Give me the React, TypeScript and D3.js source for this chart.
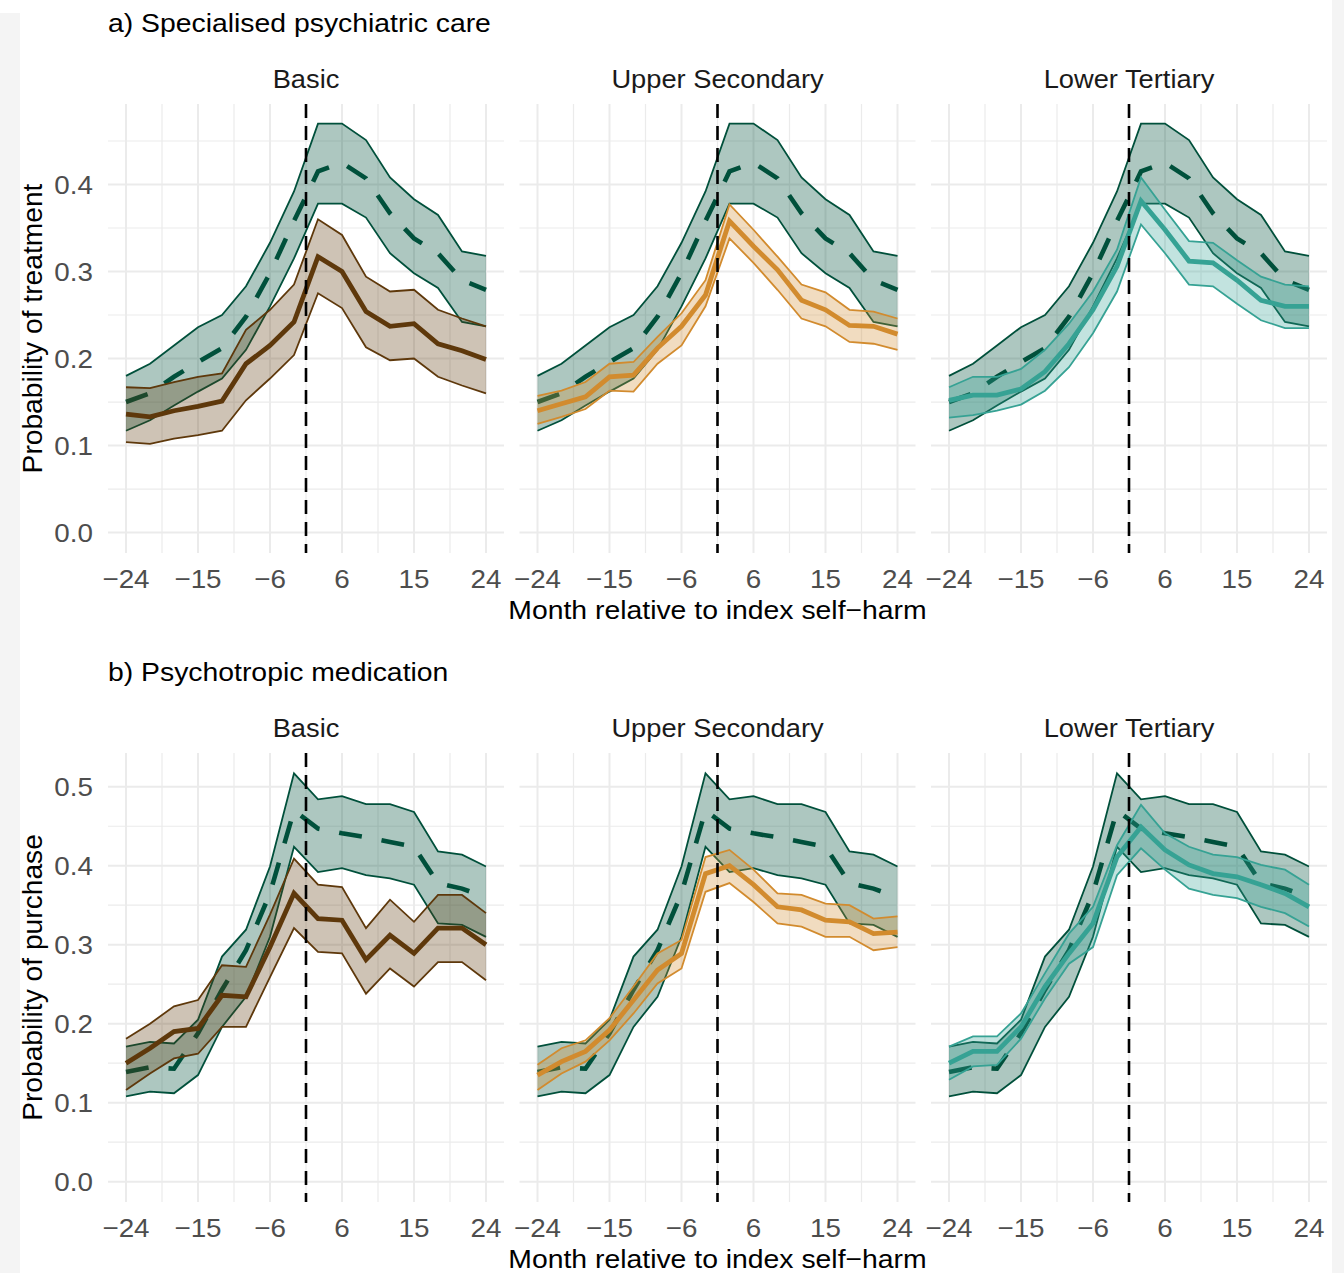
import React from 'react';
import * as d3 from 'd3';

// Months relative to the index self-harm episode (quarterly, month 0 excluded)
const months = [-24, -21, -18, -15, -12, -9, -6, -3, 3, 6, 9, 12, 15, 18, 21, 24];
const xTickMonths = [-24, -15, -6, 6, 15, 24];
const facetLabels = ['Basic', 'Upper Secondary', 'Lower Tertiary'];

// a) Specialised psychiatric care — reference band (dashed)
const careRefLow = [0.117, 0.129, 0.146, 0.162, 0.177, 0.21, 0.26, 0.315, 0.378, 0.378, 0.362, 0.321, 0.298, 0.281, 0.242, 0.237];
const careRefMid = [0.15, 0.16, 0.179, 0.196, 0.212, 0.248, 0.298, 0.358, 0.415, 0.425, 0.407, 0.367, 0.338, 0.321, 0.29, 0.279];
const careRefHigh = [0.18, 0.194, 0.215, 0.236, 0.25, 0.283, 0.333, 0.392, 0.47, 0.47, 0.451, 0.408, 0.383, 0.365, 0.323, 0.318];

// a) Basic
const careBasicLow = [0.104, 0.102, 0.108, 0.112, 0.117, 0.152, 0.177, 0.204, 0.275, 0.258, 0.213, 0.198, 0.2, 0.179, 0.169, 0.16];
const careBasicMid = [0.136, 0.133, 0.14, 0.145, 0.151, 0.194, 0.215, 0.242, 0.317, 0.3, 0.254, 0.237, 0.24, 0.217, 0.209, 0.199];
const careBasicHigh = [0.167, 0.166, 0.173, 0.179, 0.183, 0.233, 0.256, 0.285, 0.36, 0.342, 0.294, 0.277, 0.279, 0.256, 0.246, 0.237];

// a) Upper Secondary
const careUpperLow = [0.125, 0.133, 0.142, 0.163, 0.162, 0.194, 0.215, 0.26, 0.338, 0.31, 0.279, 0.246, 0.237, 0.219, 0.217, 0.21];
const careUpperMid = [0.14, 0.148, 0.156, 0.179, 0.181, 0.212, 0.237, 0.273, 0.358, 0.329, 0.302, 0.267, 0.256, 0.238, 0.237, 0.228];
const careUpperHigh = [0.157, 0.163, 0.173, 0.194, 0.196, 0.225, 0.252, 0.29, 0.377, 0.348, 0.317, 0.285, 0.276, 0.256, 0.254, 0.246];

// a) Lower Tertiary
const careTertLow = [0.132, 0.135, 0.14, 0.147, 0.163, 0.19, 0.229, 0.277, 0.354, 0.321, 0.285, 0.283, 0.263, 0.244, 0.235, 0.235];
const careTertMid = [0.152, 0.158, 0.158, 0.165, 0.185, 0.217, 0.256, 0.306, 0.381, 0.348, 0.312, 0.31, 0.29, 0.267, 0.26, 0.26];
const careTertHigh = [0.167, 0.179, 0.179, 0.188, 0.21, 0.24, 0.277, 0.325, 0.408, 0.371, 0.335, 0.333, 0.313, 0.294, 0.285, 0.283];

// b) Psychotropic medication — reference band (dashed)
const medRefLow = [0.108, 0.114, 0.112, 0.135, 0.196, 0.234, 0.31, 0.424, 0.392, 0.397, 0.388, 0.384, 0.376, 0.327, 0.325, 0.31];
const medRefMid = [0.139, 0.145, 0.143, 0.188, 0.243, 0.293, 0.365, 0.47, 0.447, 0.441, 0.436, 0.43, 0.424, 0.378, 0.371, 0.36];
const medRefHigh = [0.171, 0.177, 0.175, 0.205, 0.285, 0.319, 0.399, 0.517, 0.484, 0.488, 0.478, 0.478, 0.468, 0.418, 0.414, 0.399];

// b) Basic
const medBasicLow = [0.116, 0.137, 0.156, 0.162, 0.196, 0.196, 0.259, 0.321, 0.291, 0.289, 0.238, 0.27, 0.247, 0.278, 0.278, 0.255];
const medBasicMid = [0.15, 0.169, 0.19, 0.194, 0.236, 0.234, 0.297, 0.365, 0.333, 0.331, 0.281, 0.312, 0.289, 0.321, 0.321, 0.3];
const medBasicHigh = [0.181, 0.2, 0.222, 0.23, 0.274, 0.272, 0.338, 0.409, 0.376, 0.373, 0.321, 0.357, 0.329, 0.363, 0.363, 0.34];

// b) Upper Secondary
const medUpperLow = [0.116, 0.137, 0.152, 0.179, 0.213, 0.251, 0.27, 0.367, 0.378, 0.354, 0.327, 0.323, 0.31, 0.31, 0.293, 0.297];
const medUpperMid = [0.135, 0.152, 0.165, 0.192, 0.23, 0.268, 0.289, 0.39, 0.4, 0.376, 0.348, 0.344, 0.331, 0.329, 0.314, 0.316];
const medUpperHigh = [0.148, 0.169, 0.179, 0.207, 0.247, 0.289, 0.306, 0.411, 0.42, 0.395, 0.365, 0.363, 0.352, 0.35, 0.333, 0.336];

// b) Lower Tertiary
const medTertLow = [0.129, 0.146, 0.148, 0.181, 0.232, 0.276, 0.297, 0.388, 0.422, 0.395, 0.371, 0.363, 0.359, 0.348, 0.34, 0.323];
const medTertMid = [0.15, 0.165, 0.165, 0.196, 0.247, 0.289, 0.327, 0.411, 0.449, 0.42, 0.401, 0.39, 0.386, 0.376, 0.365, 0.348];
const medTertHigh = [0.171, 0.184, 0.184, 0.213, 0.264, 0.314, 0.348, 0.426, 0.477, 0.441, 0.424, 0.414, 0.411, 0.401, 0.395, 0.376];

const careYTicks = [0, 0.1, 0.2, 0.3, 0.4];
const medYTicks = [0, 0.1, 0.2, 0.3, 0.4, 0.5];

const REF_COLOR = '#00503b';
const GROUP_COLORS = ['#5e380b', '#d28b2e', '#36a294'];
const FONT = '"Liberation Sans", Arial, Helvetica, sans-serif';
const TEXT_STRETCH = 1.07;

type Band = { low: number[]; mid: number[]; high: number[] };

const PANEL_W = 396;
const PANEL_H = 449;
const PANEL_STEP = 411.5;
const PANEL_LEFT = 108;

// Horizontal text, slightly widened to match the wider sans face of the figure
function Txt({ x, y, size, fill, anchor = 'start', children }: {
  x: number; y: number; size: number; fill: string; anchor?: string; children: React.ReactNode;
}) {
  return (
    <text transform={`translate(${x},${y}) scale(${TEXT_STRETCH},1)`} textAnchor={anchor} fontSize={size} fill={fill}>
      {children}
    </text>
  );
}

function Facet({ left, top, y, yTicks, refBand, band, color, label }: {
  left: number; top: number; y: d3.ScaleLinear<number, number>; yTicks: number[];
  refBand: Band; band: Band; color: string; label: string;
}) {
  const x = d3.scalePoint<number>().domain(months).range([left, left + PANEL_W]).padding(0.75);
  const xPos = (m: number) => x(m) as number;
  const majorX = xTickMonths.map(xPos);
  const minorX = majorX.slice(1).map((v, i) => (v + majorX[i]) / 2);
  const [yMin, yMax] = y.domain();
  const minorY = d3.range(0.05, yMax, 0.1).filter((v) => v > yMin);
  const zeroX = (xPos(-3) + xPos(3)) / 2;

  const line = (vals: number[]) =>
    d3.line<number>().x((_, i) => xPos(months[i])).y((v) => y(v))(vals) as string;
  const area = (b: Band) =>
    d3.area<number>()
      .x((_, i) => xPos(months[i]))
      .y0((_, i) => y(b.low[i]))
      .y1((_, i) => y(b.high[i]))(b.low) as string;

  const bottom = top + PANEL_H;
  return (
    <g>
      {minorY.map((v) => (
        <line key={'my' + v} x1={left} x2={left + PANEL_W} y1={y(v)} y2={y(v)} stroke="#ebebeb" strokeWidth={1.2} />
      ))}
      {minorX.map((v) => (
        <line key={'mx' + v} x1={v} x2={v} y1={top} y2={bottom} stroke="#ebebeb" strokeWidth={1.2} />
      ))}
      {yTicks.map((v) => (
        <line key={'y' + v} x1={left} x2={left + PANEL_W} y1={y(v)} y2={y(v)} stroke="#ebebeb" strokeWidth={2} />
      ))}
      {majorX.map((v) => (
        <line key={'x' + v} x1={v} x2={v} y1={top} y2={bottom} stroke="#ebebeb" strokeWidth={2} />
      ))}

      <path d={area(refBand)} fill={REF_COLOR} fillOpacity={0.32} />
      <path d={line(refBand.low)} fill="none" stroke={REF_COLOR} strokeWidth={1.8} />
      <path d={line(refBand.high)} fill="none" stroke={REF_COLOR} strokeWidth={1.8} />
      <path d={line(refBand.mid)} fill="none" stroke={REF_COLOR} strokeWidth={4.6} strokeDasharray="23 20" />

      <path d={area(band)} fill={color} fillOpacity={0.3} />
      <path d={line(band.low)} fill="none" stroke={color} strokeWidth={1.8} />
      <path d={line(band.high)} fill="none" stroke={color} strokeWidth={1.8} />
      <path d={line(band.mid)} fill="none" stroke={color} strokeWidth={4.8} />

      <line x1={zeroX} x2={zeroX} y1={top} y2={bottom} stroke="#000" strokeWidth={2.6} strokeDasharray="14 8" />

      <Txt x={left + PANEL_W / 2} y={top - 15.7} anchor="middle" size={25.5} fill="#1a1a1a">{label}</Txt>
      {xTickMonths.map((m) => (
        <Txt key={'t' + m} x={xPos(m)} y={bottom + 35} anchor="middle" size={26} fill="#4d4d4d">
          {m < 0 ? '\u2212' + Math.abs(m) : String(m)}
        </Txt>
      ))}
    </g>
  );
}

function Section({ top, title, yLabel, yDomain, yTicks, refBand, bands }: {
  top: number; title: string; yLabel: string; yDomain: [number, number]; yTicks: number[];
  refBand: Band; bands: Band[];
}) {
  const y = d3.scaleLinear().domain(yDomain).range([top + PANEL_H, top]);
  const totalRight = PANEL_LEFT + PANEL_STEP * 2 + PANEL_W;
  return (
    <g>
      <Txt x={108} y={top - 72.3} size={26.5} fill="#000">{title}</Txt>
      {yTicks.map((v) => (
        <Txt key={v} x={93} y={y(v) + 9.5} anchor="end" size={26} fill="#4d4d4d">{d3.format('.1f')(v)}</Txt>
      ))}
      <text transform={`translate(41.5, ${top + PANEL_H / 2}) rotate(-90)`} textAnchor="middle" fontSize={28.2} fill="#000">{yLabel}</text>
      {bands.map((b, k) => (
        <Facet key={k} left={PANEL_LEFT + PANEL_STEP * k} top={top} y={y} yTicks={yTicks}
          refBand={refBand} band={b} color={GROUP_COLORS[k]} label={facetLabels[k]} />
      ))}
      <Txt x={(PANEL_LEFT + totalRight) / 2} y={top + PANEL_H + 66} anchor="middle" size={26.5} fill="#000">
        Month relative to index self{'\u2212'}harm
      </Txt>
    </g>
  );
}

export default function App() {
  const careRef = { low: careRefLow, mid: careRefMid, high: careRefHigh };
  const careBands = [
    { low: careBasicLow, mid: careBasicMid, high: careBasicHigh },
    { low: careUpperLow, mid: careUpperMid, high: careUpperHigh },
    { low: careTertLow, mid: careTertMid, high: careTertHigh },
  ];
  const medRef = { low: medRefLow, mid: medRefMid, high: medRefHigh };
  const medBands = [
    { low: medBasicLow, mid: medBasicMid, high: medBasicHigh },
    { low: medUpperLow, mid: medUpperMid, high: medUpperHigh },
    { low: medTertLow, mid: medTertMid, high: medTertHigh },
  ];
  return (
    <svg width={1344} height={1273} style={{ position: 'absolute', left: 0, top: 0, fontFamily: FONT }}>
      <rect x={0} y={0} width={1344} height={1273} fill="#ffffff" />
      <rect x={0} y={13} width={20} height={1260} fill="#f4f4f4" />
      <rect x={1332} y={0} width={12} height={1273} fill="#f4f4f4" />
      <Section top={104} title="a) Specialised psychiatric care" yLabel="Probability of treatment"
        yDomain={[-0.0235, 0.4925]} yTicks={careYTicks} refBand={careRef} bands={careBands} />
      <Section top={753} title="b) Psychotropic medication" yLabel="Probability of purchase"
        yDomain={[-0.0257, 0.5427]} yTicks={medYTicks} refBand={medRef} bands={medBands} />
    </svg>
  );
}
